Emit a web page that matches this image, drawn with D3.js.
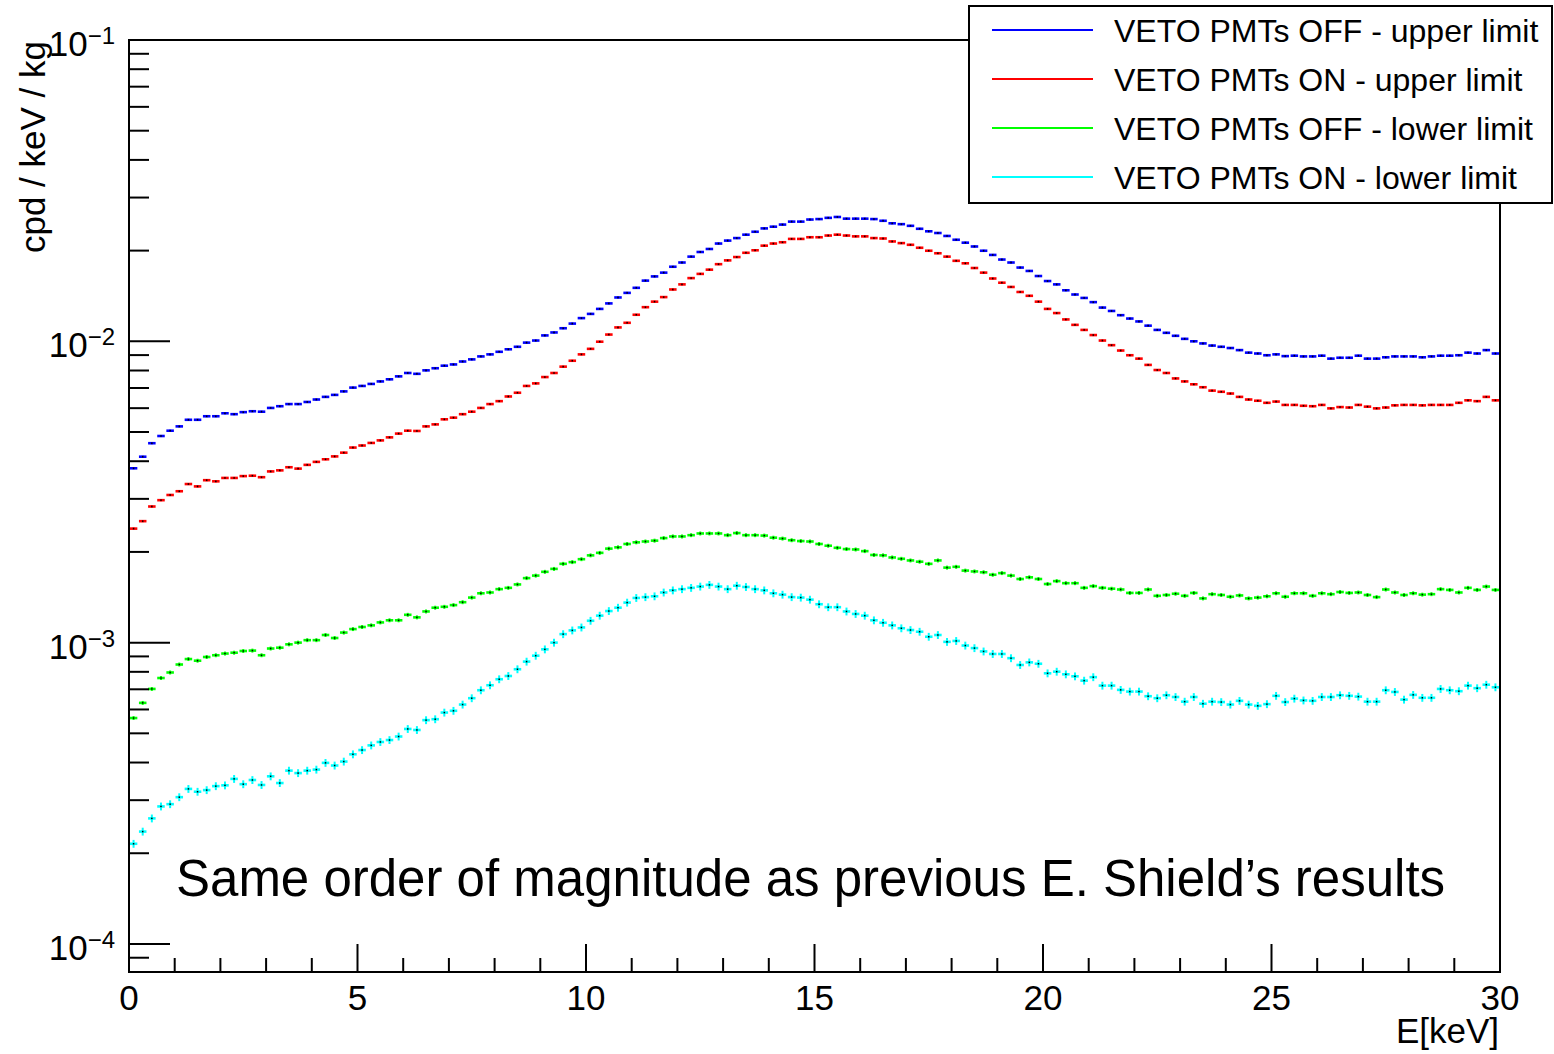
<!DOCTYPE html>
<html>
<head>
<meta charset="utf-8">
<script src="https://cdn.jsdelivr.net/npm/d3@7"></script>
<style>
  body { margin: 0; background: #fff; }
  svg { display: block; font-family: "Liberation Sans", Arial, Helvetica, sans-serif; }
</style>
</head>
<body>
<svg width="1554" height="1054"></svg>
<script>
// histogram bins: 150 bins of 0.2 keV from 0 to 30 keV
var binWidth = 0.2;
var binLow = d3.range(150).map(function(i) { return +(i * binWidth).toFixed(1); });

// cpd / keV / kg, one value per bin
var offUpper = [
  0.00379,0.00414,0.00459,0.00485,0.00505,0.00522,0.00549,0.00549,0.00564,0.00564,
  0.00577,0.00573,0.00582,0.00586,0.00584,0.00601,0.00609,0.00619,0.00619,0.00629,
  0.00641,0.00654,0.00664,0.00682,0.00702,0.00711,0.00722,0.00736,0.00748,0.00765,
  0.00785,0.00780,0.00801,0.00814,0.00830,0.00838,0.00857,0.00871,0.00891,0.00905,
  0.00923,0.00941,0.00959,0.00990,0.01006,0.01046,0.01070,0.01105,0.01145,0.01194,
  0.01233,0.01281,0.01336,0.01398,0.01448,0.01505,0.01590,0.01642,0.01690,0.01768,
  0.01826,0.01910,0.01979,0.02025,0.02111,0.02159,0.02201,0.02259,0.02310,0.02370,
  0.02401,0.02440,0.02496,0.02496,0.02536,0.02545,0.02569,0.02586,0.02553,0.02553,
  0.02553,0.02545,0.02512,0.02464,0.02448,0.02417,0.02363,0.02318,0.02288,0.02237,
  0.02173,0.02125,0.02064,0.01998,0.01935,0.01868,0.01826,0.01757,0.01712,0.01647,
  0.01585,0.01545,0.01477,0.01430,0.01393,0.01349,0.01294,0.01261,0.01221,0.01190,
  0.01164,0.01127,0.01091,0.01067,0.01043,0.01019,0.01000,0.00984,0.00968,0.00959,
  0.00950,0.00935,0.00917,0.00911,0.00899,0.00905,0.00893,0.00896,0.00891,0.00891,
  0.00896,0.00876,0.00882,0.00882,0.00896,0.00876,0.00876,0.00885,0.00891,0.00891,
  0.00891,0.00885,0.00891,0.00896,0.00896,0.00899,0.00917,0.00911,0.00935,0.00911
];
var onUpper = [
  0.00239,0.00253,0.00283,0.00297,0.00309,0.00318,0.00336,0.00330,0.00346,0.00343,
  0.00352,0.00352,0.00357,0.00358,0.00354,0.00370,0.00373,0.00382,0.00378,0.00389,
  0.00398,0.00406,0.00415,0.00427,0.00444,0.00451,0.00460,0.00469,0.00480,0.00494,
  0.00505,0.00504,0.00522,0.00530,0.00551,0.00558,0.00573,0.00584,0.00601,0.00619,
  0.00633,0.00656,0.00675,0.00711,0.00725,0.00761,0.00785,0.00824,0.00862,0.00905,
  0.00944,0.00997,0.01053,0.01112,0.01152,0.01225,0.01298,0.01354,0.01402,0.01486,
  0.01545,0.01621,0.01674,0.01729,0.01803,0.01856,0.01904,0.01967,0.02005,0.02077,
  0.02111,0.02132,0.02187,0.02187,0.02215,0.02215,0.02244,0.02259,0.02244,0.02230,
  0.02230,0.02201,0.02194,0.02145,0.02118,0.02091,0.02044,0.01998,0.01960,0.01910,
  0.01850,0.01815,0.01751,0.01690,0.01616,0.01565,0.01515,0.01458,0.01416,0.01354,
  0.01281,0.01241,0.01182,0.01134,0.01091,0.01049,0.01006,0.00971,0.00932,0.00899,
  0.00876,0.00835,0.00803,0.00785,0.00753,0.00736,0.00720,0.00704,0.00686,0.00680,
  0.00671,0.00654,0.00641,0.00635,0.00625,0.00631,0.00615,0.00615,0.00611,0.00609,
  0.00615,0.00599,0.00605,0.00603,0.00615,0.00607,0.00599,0.00603,0.00613,0.00615,
  0.00615,0.00613,0.00615,0.00615,0.00615,0.00625,0.00637,0.00633,0.00654,0.00637
];
var offLower = [
  0.000562,0.000631,0.000702,0.000763,0.000796,0.000846,0.000882,0.000871,0.000896,0.000908,
  0.000920,0.000926,0.000938,0.000941,0.000908,0.000956,0.000962,0.000987,0.001000,0.001019,
  0.001019,0.001060,0.001036,0.001080,0.001109,0.001127,0.001141,0.001167,0.001186,0.001186,
  0.001237,0.001213,0.001269,0.001306,0.001315,0.001332,0.001362,0.001411,0.001458,0.001467,
  0.001505,0.001520,0.001560,0.001637,0.001669,0.001718,0.001757,0.001826,0.001850,0.001892,
  0.001948,0.001986,0.002051,0.002071,0.002125,0.002152,0.002166,0.002180,0.002223,0.002251,
  0.002251,0.002273,0.002303,0.002303,0.002303,0.002273,0.002310,0.002273,0.002273,0.002266,
  0.002230,0.002215,0.002187,0.002173,0.002166,0.002125,0.002097,0.002064,0.002044,0.002038,
  0.002012,0.001954,0.001948,0.001917,0.001898,0.001874,0.001856,0.001826,0.001874,0.001774,
  0.001785,0.001734,0.001723,0.001712,0.001680,0.001701,0.001669,0.001626,0.001647,0.001626,
  0.001565,0.001600,0.001575,0.001575,0.001520,0.001540,0.001520,0.001510,0.001501,0.001462,
  0.001462,0.001501,0.001430,0.001439,0.001453,0.001430,0.001462,0.001402,0.001448,0.001439,
  0.001420,0.001434,0.001402,0.001411,0.001425,0.001458,0.001420,0.001458,0.001458,0.001430,
  0.001458,0.001448,0.001472,0.001462,0.001467,0.001439,0.001416,0.001501,0.001467,0.001439,
  0.001458,0.001443,0.001448,0.001505,0.001496,0.001467,0.001520,0.001496,0.001535,0.001496
];
var onLower = [
  0.000215,0.000236,0.000261,0.000286,0.000291,0.000307,0.000327,0.000320,0.000324,0.000334,
  0.000336,0.000353,0.000339,0.000350,0.000337,0.000360,0.000342,0.000376,0.000369,0.000376,
  0.000379,0.000399,0.000391,0.000403,0.000426,0.000440,0.000456,0.000468,0.000475,0.000488,
  0.000517,0.000513,0.000553,0.000557,0.000586,0.000594,0.000623,0.000654,0.000695,0.000722,
  0.000756,0.000775,0.000816,0.000865,0.000905,0.000950,0.001000,0.001067,0.001098,0.001123,
  0.001182,0.001229,0.001273,0.001306,0.001358,0.001407,0.001416,0.001425,0.001467,0.001491,
  0.001505,0.001520,0.001535,0.001555,0.001535,0.001505,0.001545,0.001530,0.001505,0.001491,
  0.001458,0.001443,0.001416,0.001411,0.001389,0.001341,0.001311,0.001311,0.001269,0.001245,
  0.001229,0.001186,0.001164,0.001141,0.001116,0.001101,0.001087,0.001046,0.001060,0.001006,
  0.001013,0.000978,0.000959,0.000935,0.000917,0.000917,0.000888,0.000843,0.000860,0.000851,
  0.000791,0.000801,0.000785,0.000773,0.000748,0.000768,0.000720,0.000720,0.000697,0.000688,
  0.000688,0.000664,0.000654,0.000669,0.000660,0.000637,0.000660,0.000627,0.000637,0.000635,
  0.000623,0.000641,0.000623,0.000617,0.000625,0.000666,0.000635,0.000652,0.000643,0.000641,
  0.000660,0.000660,0.000669,0.000666,0.000662,0.000637,0.000637,0.000695,0.000686,0.000647,
  0.000671,0.000656,0.000656,0.000702,0.000695,0.000690,0.000720,0.000706,0.000725,0.000711
];

var seriesNames = ["VETO PMTs OFF - upper limit", "VETO PMTs ON - upper limit",
                   "VETO PMTs OFF - lower limit", "VETO PMTs ON - lower limit"];
var seriesColors = ["#0000ff", "#ff0000", "#00ff00", "#00ffff"];
var seriesValues = [offUpper, onUpper, offLower, onLower];
// rough relative statistical error of each series (size of the vertical bars)
var seriesRelErr = [0.008, 0.008, 0.015, 0.03];

var xTickValues = [0, 5, 10, 15, 20, 25, 30];
var yDecades = [-1, -2, -3, -4];
var noteText = "Same order of magnitude as previous E. Shield\u2019s results";

//frame of the pad
var svg = d3.select("svg"),
    pad = {left: 129, right: 1500, top: 40, bottom: 972};

var x = d3.scaleLinear().domain([0, 30]).range([pad.left, pad.right]);
var y = d3.scaleLog().domain([8.07e-5, 0.1]).range([pad.bottom, pad.top]);

// histograms: horizontal bar over the bin, small vertical error, black dot
seriesValues.forEach(function(vals, s) {
  var g = svg.append("g").attr("stroke", seriesColors[s]).attr("stroke-width", 2.6);
  var bins = vals.map(function(v, i) { return {lo: binLow[i], v: v}; });
  g.selectAll("line.h").data(bins).enter().append("line")
    .attr("class", "h")
    .attr("x1", d => x(d.lo) + 0.8)
    .attr("x2", d => x(d.lo + binWidth) - 0.8)
    .attr("y1", d => y(d.v))
    .attr("y2", d => y(d.v));
  g.selectAll("line.v").data(bins).enter().append("line")
    .attr("class", "v")
    .attr("stroke-width", 2)
    .attr("x1", d => x(d.lo + binWidth / 2))
    .attr("x2", d => x(d.lo + binWidth / 2))
    .attr("y1", d => y(d.v * (1 + seriesRelErr[s])))
    .attr("y2", d => y(d.v * (1 - seriesRelErr[s])));
  svg.append("g").selectAll("rect").data(bins).enter().append("rect")
    .attr("x", d => x(d.lo + binWidth / 2) - 0.75)
    .attr("y", d => y(d.v) - 0.75)
    .attr("width", 1.5).attr("height", 1.5)
    .attr("fill", "#000");
});

// frame
svg.append("rect")
  .attr("x", pad.left).attr("y", pad.top)
  .attr("width", pad.right - pad.left).attr("height", pad.bottom - pad.top)
  .attr("fill", "none").attr("stroke", "#000").attr("stroke-width", 2);

// x ticks (minor every keV, major every 5)
var xt = svg.append("g").attr("stroke", "#000").attr("stroke-width", 2);
xt.selectAll("line").data(d3.range(1, 30)).enter().append("line")
  .attr("x1", d => x(d)).attr("x2", d => x(d))
  .attr("y1", pad.bottom).attr("y2", d => pad.bottom - (d % 5 === 0 ? 28 : 14));
svg.append("g").selectAll("text").data(xTickValues).enter().append("text")
  .attr("x", d => x(d)).attr("y", 1010)
  .attr("text-anchor", "middle").attr("font-size", 35)
  .text(d => d);

// y ticks on the log axis
var yt = svg.append("g").attr("stroke", "#000").attr("stroke-width", 2);
var yMinor = [];
[-5, -4, -3, -2].forEach(function(e) {
  for (var k = 1; k < 10; k++) {
    var v = k * Math.pow(10, e);
    if (v >= y.domain()[0] && v < 0.1) yMinor.push({v: v, major: k === 1});
  }
});
yt.selectAll("line").data(yMinor).enter().append("line")
  .attr("x1", pad.left).attr("x2", d => pad.left + (d.major ? 41 : 20))
  .attr("y1", d => y(d.v)).attr("y2", d => y(d.v));

var yl = svg.append("g").selectAll("text").data(yDecades).enter().append("text")
  .attr("x", 115).attr("y", d => y(Math.pow(10, d)) + 16)
  .attr("text-anchor", "end");
yl.append("tspan").attr("font-size", 35).text("10");
yl.append("tspan").attr("font-size", 24).attr("dy", -12).text(d => "\u2212" + (-d));

// axis titles
svg.append("text")
  .attr("transform", "translate(45,41) rotate(-90)")
  .attr("text-anchor", "end").attr("font-size", 35)
  .text("cpd / keV / kg");
svg.append("text")
  .attr("x", 1499).attr("y", 1043)
  .attr("text-anchor", "end").attr("font-size", 35)
  .text("E[keV]");

// note
svg.append("text")
  .attr("x", 176).attr("y", 896)
  .attr("font-size", 51)
  .text(noteText);

// legend
var lg = svg.append("g");
lg.append("rect")
  .attr("x", 969).attr("y", 6).attr("width", 583).attr("height", 197)
  .attr("fill", "#fff").attr("stroke", "#000").attr("stroke-width", 2);
var item = lg.selectAll("g").data(seriesNames).enter().append("g")
  .attr("transform", (d, i) => "translate(0," + (30 + i * 49) + ")");
item.append("line")
  .attr("x1", 992).attr("x2", 1093)
  .attr("stroke", (d, i) => seriesColors[i]).attr("stroke-width", 2);
item.append("text")
  .attr("x", 1114).attr("y", 11.5)
  .attr("font-size", 32)
  .text(d => d);
</script>
</body>
</html>
